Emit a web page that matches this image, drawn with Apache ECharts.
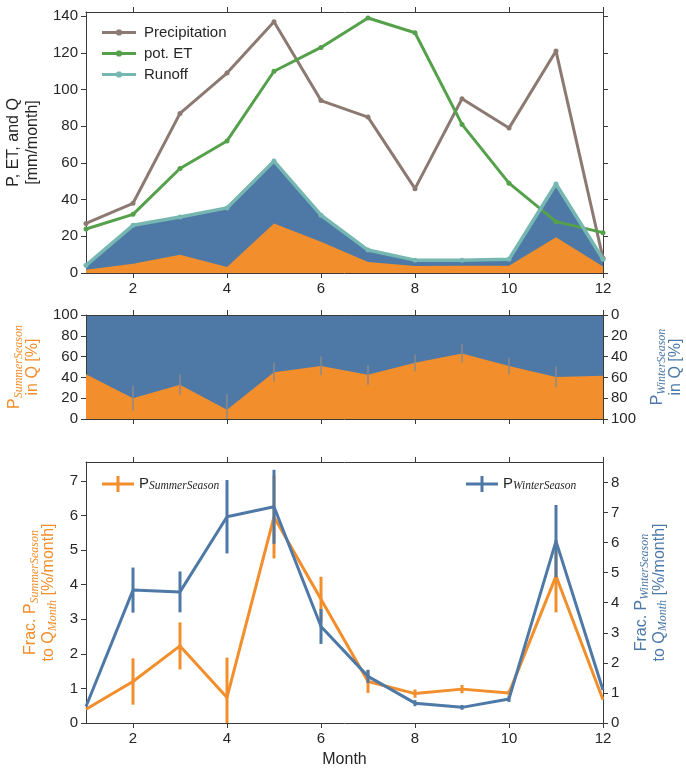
<!DOCTYPE html>
<html><head><meta charset="utf-8">
<script src="https://cdn.jsdelivr.net/npm/echarts@6/dist/echarts.min.js"></script>
<style>html,body{margin:0;padding:0;background:#fff}#c{width:686px;height:773px}</style>
</head><body><div id="c"></div>
<script>
// ---- data ----
const months = [1,2,3,4,5,6,7,8,9,10,11,12];
const monthTicks = [2,4,6,8,10,12];
const precipitation = [27, 38, 87, 109, 137, 94, 85, 46, 95, 79, 121, 8];
const potET = [24, 32, 57, 72, 110, 123, 139, 131, 81, 49, 28, 22];
const runoff = [4.2, 26, 30.5, 35.5, 61, 31.5, 12.5, 7, 7, 7.5, 48.5, 7.5];
const runoffSummer = [1.8, 5, 10, 3.3, 27, 17, 6, 3.8, 4, 4, 19.5, 3.5];
const topTicks = [0,20,40,60,80,100,120,140];

const summerPct = [43, 20, 33, 9, 45, 51, 42.5, 54, 63, 51, 40.5, 41.5];
const summerPctErr = [null, 12, 9.6, 15, 9, 9, 9.5, 8, 9, 8, 10, null];
const pctTicks = [0,20,40,60,80,100];

const fracSummer = [0.4, 1.2, 2.23, 0.74, 5.96, 3.58, 1.2, 0.85, 0.98, 0.87, 4.25, 0.67];
const fracSummerErr = [0, 0.67, 0.68, 1.15, 1.2, 0.65, 0.33, 0.12, 0.12, 0.08, 1.05, 0];
const fracWinter = [0.55, 4.42, 4.36, 6.86, 7.19, 3.21, 1.55, 0.66, 0.52, 0.8, 6.05, 1.1];
const fracWinterErr = [0, 0.75, 0.68, 1.22, 1.23, 0.58, 0.22, 0.1, 0.08, 0.1, 1.2, 0];
const leftFracTicks = [0,1,2,3,4,5,6,7];
const rightFracTicks = [0,1,2,3,4,5,6,7,8];

// ---- style ----
const FONT = 'Liberation Sans';
const TXT = '#262626';
const AXC = '#3a3a3a';
const BLUE = '#4e79a7';
const ORANGE = '#f28e2b';
const BROWN = '#8c7a72';
const GREEN = '#55a04a';
const TEAL = '#76b7b2';
const lineStyleAx = {color: AXC, width: 1};

function xAx(g, pos, labels, name) {
  return {
    type: 'value', gridIndex: g, position: pos, min: 1, max: 12,
    name: name || '', nameLocation: 'middle', nameGap: 29,
    nameTextStyle: {fontFamily: FONT, fontSize: 16, color: TXT},
    axisLine: {show: true, onZero: false, lineStyle: lineStyleAx},
    axisTick: {show: true, inside: false, length: 5, customValues: monthTicks, lineStyle: lineStyleAx},
    axisLabel: {show: labels, customValues: monthTicks, fontFamily: FONT, fontSize: 15, color: TXT, margin: 8},
    splitLine: {show: false}
  };
}
function yAx(g, pos, min, max, ticks, labels, extra) {
  return Object.assign({
    type: 'value', gridIndex: g, position: pos, min: min, max: max,
    axisLine: {show: true, onZero: false, lineStyle: lineStyleAx},
    axisTick: {show: true, inside: false, length: 5, customValues: ticks, lineStyle: lineStyleAx},
    axisLabel: {show: labels, customValues: ticks, fontFamily: FONT, fontSize: 15, color: TXT, margin: 8},
    splitLine: {show: false}
  }, extra || {});
}
function richFor(color) {
  return {
    n: {fontFamily: FONT, fontSize: 16, color: color, lineHeight: 18, verticalAlign: 'top'},
    s: {fontFamily: 'Liberation Serif', fontStyle: 'italic', fontSize: 12, color: color, lineHeight: 12, padding: [9,0,0,0], verticalAlign: 'bottom'}
  };
}
function errSeries(vals, errs, color, width, xi, yi, z) {
  const data = [];
  months.forEach((m, i) => { if (errs[i] != null) data.push([m, vals[i], errs[i]]); });
  return {
    type: 'custom', xAxisIndex: xi, yAxisIndex: yi, z: z, silent: true, clip: true,
    data: data,
    renderItem: function (p, api) {
      const x = api.value(0), y = api.value(1), e = api.value(2);
      const a = api.coord([x, y - e]), b = api.coord([x, y + e]);
      return {type: 'line', shape: {x1: a[0], y1: a[1], x2: b[0], y2: b[1]}, style: {stroke: color, lineWidth: width}};
    }
  };
}
const pairs = v => months.map((m, i) => [m, v[i]]);
const errIcon = 'path://M0,6.5 L32,6.5 L32,9.5 L0,9.5 Z M14.5,0 L17.5,0 L17.5,16 L14.5,16 Z';
const lineDotIcon = 'path://M0,1.6 L34,1.6 L34,4.4 L0,4.4 Z M15.5,0 L18.5,0 L20,1.5 L20,4.5 L18.5,6 L15.5,6 L14,4.5 L14,1.5 Z';
const legendRich = {
  n: {fontFamily: FONT, fontSize: 15, color: TXT, lineHeight: 16, verticalAlign: 'top'},
  s: {fontFamily: 'Liberation Serif', fontStyle: 'italic', fontSize: 11.5, color: TXT, lineHeight: 11, padding: [8,0,0,0], verticalAlign: 'bottom'}
};

const grids = [
  {left: 86, right: 83, top: 12, bottom: 500, outerBoundsMode: 'none', containLabel: false},
  {left: 86, right: 83, top: 315, bottom: 354, show: true, backgroundColor: BLUE, borderWidth: 0, outerBoundsMode: 'none', containLabel: false},
  {left: 86, right: 83, top: 462, bottom: 50, outerBoundsMode: 'none', containLabel: false}
];

const option = {
  animation: false,
  backgroundColor: '#ffffff',
  grid: grids,
  xAxis: [
    xAx(0, 'bottom', true), xAx(0, 'top', false),
    xAx(1, 'bottom', false), xAx(1, 'top', false),
    xAx(2, 'bottom', true, 'Month'), xAx(2, 'top', false)
  ],
  yAxis: [
    yAx(0, 'left', 0, 142.3, topTicks, true, {
      name: 'P, ET, and Q\n[mm/month]', nameLocation: 'middle', nameRotate: 90, nameGap: 41,
      nameTextStyle: {fontFamily: FONT, fontSize: 16, color: TXT, lineHeight: 19}
    }),
    yAx(0, 'right', 0, 142.3, topTicks, false),
    yAx(1, 'left', 0, 100, pctTicks, true, {
      name: '{n|P}{s|SummerSeason}\n{n|in Q [%]}', nameLocation: 'middle', nameRotate: 90, nameGap: 43,
      nameTextStyle: {rich: richFor(ORANGE)}
    }),
    yAx(1, 'right', 0, 100, pctTicks, true, {
      inverse: true,
      name: '{n|P}{s|WinterSeason}\n{n|in Q [%]}', nameLocation: 'middle', nameRotate: 90, nameGap: 37,
      nameTextStyle: {rich: richFor(BLUE)}
    }),
    yAx(2, 'left', 0, 7.55, leftFracTicks, true, {
      name: '{n|Frac. P}{s|SummerSeason}\n{n|to Q}{s|Month}{n| [%/month]}', nameLocation: 'middle', nameRotate: 90, nameGap: 25,
      nameTextStyle: {rich: richFor(ORANGE)}
    }),
    yAx(2, 'right', 0, 8.68, rightFracTicks, true, {
      name: '{n|Frac. P}{s|WinterSeason}\n{n|to Q}{s|Month}{n| [%/month]}', nameLocation: 'middle', nameRotate: 90, nameGap: 23,
      nameTextStyle: {rich: richFor(BLUE)}
    })
  ],
  legend: [
    {
      left: 97, top: 20, orient: 'vertical', itemGap: 6, itemWidth: 34, itemHeight: 6,
      textStyle: {fontFamily: FONT, fontSize: 15, color: TXT, padding: [0,0,0,3]},
      data: [
        {name: 'Precipitation', icon: lineDotIcon},
        {name: 'pot. ET', icon: lineDotIcon},
        {name: 'Runoff', icon: lineDotIcon}
      ]
    },
    {
      left: 97, top: 467, itemWidth: 32, itemHeight: 16,
      textStyle: {fontFamily: FONT, fontSize: 15, color: TXT, rich: legendRich},
      formatter: () => '{n|P}{s|SummerSeason}',
      data: [{name: 'summerFrac', icon: errIcon}]
    },
    {
      left: 461, top: 467, itemWidth: 32, itemHeight: 16,
      textStyle: {fontFamily: FONT, fontSize: 15, color: TXT, rich: legendRich},
      formatter: () => '{n|P}{s|WinterSeason}',
      data: [{name: 'winterFrac', icon: errIcon}]
    }
  ],
  series: [
    // top panel areas
    {name: 'runoffArea', type: 'line', xAxisIndex: 0, yAxisIndex: 0, data: pairs(runoff), symbol: 'none',
     lineStyle: {width: 0}, areaStyle: {color: BLUE, opacity: 1}, z: 1},
    {name: 'summerArea', type: 'line', xAxisIndex: 0, yAxisIndex: 0, data: pairs(runoffSummer), symbol: 'none',
     lineStyle: {width: 0}, areaStyle: {color: ORANGE, opacity: 1}, z: 2},
    {name: 'Precipitation', type: 'line', xAxisIndex: 0, yAxisIndex: 0, data: pairs(precipitation),
     symbol: 'circle', symbolSize: 5, itemStyle: {color: BROWN}, lineStyle: {color: BROWN, width: 3}, z: 3},
    {name: 'pot. ET', type: 'line', xAxisIndex: 0, yAxisIndex: 0, data: pairs(potET),
     symbol: 'circle', symbolSize: 5, itemStyle: {color: GREEN}, lineStyle: {color: GREEN, width: 3}, z: 4},
    {name: 'Runoff', type: 'line', xAxisIndex: 0, yAxisIndex: 0, data: pairs(runoff),
     symbol: 'circle', symbolSize: 5, itemStyle: {color: TEAL}, lineStyle: {color: TEAL, width: 3.5}, z: 5},
    // middle panel
    {name: 'summerPct', type: 'line', xAxisIndex: 2, yAxisIndex: 2, data: pairs(summerPct), symbol: 'none',
     lineStyle: {width: 0}, areaStyle: {color: ORANGE, opacity: 1}, z: 2},
    errSeries(summerPct, summerPctErr, '#8a8a8a', 1.5, 2, 2, 3),
    // bottom panel
    {name: 'summerFrac', type: 'line', xAxisIndex: 4, yAxisIndex: 4, data: pairs(fracSummer), symbol: 'none',
     itemStyle: {color: ORANGE}, lineStyle: {color: ORANGE, width: 3}, z: 2},
    errSeries(fracSummer, fracSummerErr, ORANGE, 3, 4, 4, 2),
    {name: 'winterFrac', type: 'line', xAxisIndex: 4, yAxisIndex: 5, data: pairs(fracWinter), symbol: 'none',
     itemStyle: {color: BLUE}, lineStyle: {color: BLUE, width: 3}, z: 4},
    errSeries(fracWinter, fracWinterErr, BLUE, 3, 4, 5, 4)
  ]
};
const chart = echarts.init(document.getElementById('c'), null, {renderer: 'canvas'});
chart.setOption(option);
</script>
</body></html>
